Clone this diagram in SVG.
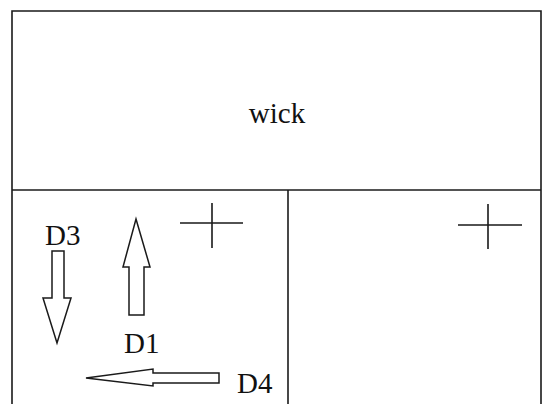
<svg xmlns="http://www.w3.org/2000/svg" width="544" height="404" viewBox="0 0 544 404">
<style>
.ln{stroke:#1a1a1a;stroke-width:1.6;fill:none}
.ar{stroke:#1a1a1a;stroke-width:1.5;fill:#fff;stroke-linejoin:miter}
text{font-family:"Liberation Serif","Times New Roman",serif;font-size:29px;fill:#111}
</style>
<rect width="544" height="404" fill="#fff"/>
<g id="frame">
<path class="ln" d="M12,405 V11 H541 V405"/>
<line class="ln" x1="12" y1="190" x2="541" y2="190"/>
<line class="ln" x1="288" y1="190" x2="288" y2="405"/>
</g>
<g id="wick"><text x="277" y="123" text-anchor="middle">wick</text></g>
<g id="cross1"><path class="ln" d="M180,223 H243 M212,203 V248"/></g>
<g id="cross2"><path class="ln" d="M458,225 H522 M488,204 V249"/></g>
<g id="D3">
<polygon class="ar" points="52,251 64,251 64,298 71,298 57,343 43,298 52,298"/>
<text x="45" y="245">D3</text>
</g>
<g id="D1">
<polygon class="ar" points="136,219 150,267 144,267 144,315 129,315 129,267 123,267"/>
<text x="124" y="353">D1</text>
</g>
<g id="D4">
<polygon class="ar" points="86,378 153,369 153,373 219,373 219,383 153,383 153,386"/>
<text x="237" y="393">D4</text>
</g>
</svg>
